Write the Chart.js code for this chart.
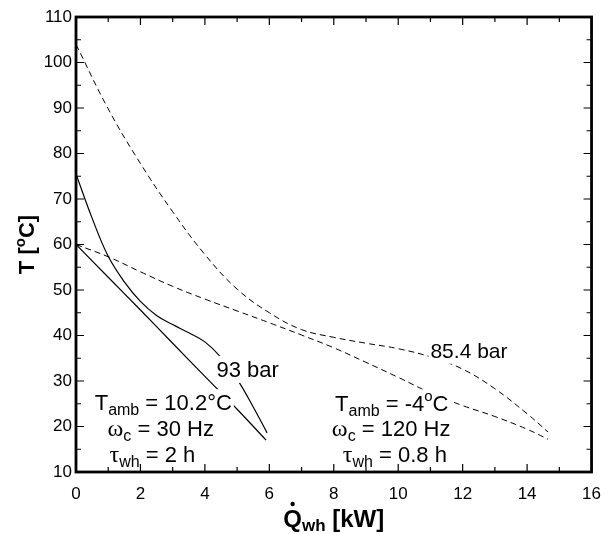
<!DOCTYPE html>
<html lang="en">
<head>
<meta charset="UTF-8" />
<title>Gas cooler temperature profiles</title>
<script src="https://cdn.jsdelivr.net/npm/chart.js@4.4.0/dist/chart.umd.min.js"></script>
<style>
  body { margin: 0; background: #fff; }
</style>
</head>
<body>
<canvas id="chart" width="613" height="534"></canvas>
<script>
  // 93 bar, Tamb = 10.2 C, 30 Hz (solid lines)
  const q93Co2 = [0, 0.5, 1, 1.5, 2, 2.5, 3, 3.5, 4, 4.5, 5, 5.5, 5.93];
  const t93Co2 = [75.5, 65.8, 57.4, 51.8, 47.5, 44.4, 42.4, 40.6, 38.6, 35.2, 30.4, 24.3, 18.6];
  const q93Water = [0, 1, 2, 3, 4, 5, 5.9];
  const t93Water = [60, 52.8, 45.6, 38.3, 31.0, 23.8, 17];

  // 85.4 bar, Tamb = -4 C, 120 Hz (dashed lines)
  const q854 = [0, 1, 2, 3, 4, 5, 6, 7, 8, 9, 10, 11, 12, 13, 14, 14.65];
  const t854Co2 = [104, 89.8, 77.8, 67.2, 57.8, 50.2, 45.0, 41.3, 39.6, 38.3, 37.1, 35.3, 32.6, 28.3, 22.8, 18.8];
  const t854Water = [60, 57.3, 54.0, 50.8, 48.0, 45.4, 42.8, 40.1, 37.3, 34.1, 30.8, 27.4, 24.6, 22.2, 19.4, 17.2];

  const xTicks = [0, 2, 4, 6, 8, 10, 12, 14, 16];
  const yTicks = [10, 20, 30, 40, 50, 60, 70, 80, 90, 100, 110];

  const SANS = '"Liberation Sans", Arial, Helvetica, sans-serif';
  const SERIF = '"Liberation Serif", "Times New Roman", serif';

  function pts(xs, ys) {
    return xs.map((v, i) => ({ x: v, y: ys[i] }));
  }

  function series(data, dashed) {
    return {
      data: data,
      showLine: true,
      borderColor: '#000',
      borderWidth: dashed ? 1 : 1.2,
      borderDash: dashed ? [6, 4] : [],
      pointRadius: 0,
      tension: 0.4,
      fill: false
    };
  }

  // one piece of a label: text, size, baseline shift, family
  function run(text, size, dy, family) {
    return { text, size, dy: dy || 0, family: family || SANS };
  }

  function drawRuns(ctx, runs, x, y, bg, bold) {
    let w = 0;
    runs.forEach(r => {
      ctx.font = (bold ? 'bold ' : '') + r.size + 'px ' + r.family;
      r.w = ctx.measureText(r.text).width;
      w += r.w;
    });
    if (bg) {
      ctx.fillStyle = '#fff';
      ctx.fillRect(x - 2, y - 21, w + 4, 27);
    }
    ctx.fillStyle = '#000';
    ctx.textBaseline = 'alphabetic';
    ctx.textAlign = 'left';
    runs.forEach(r => {
      ctx.font = (bold ? 'bold ' : '') + r.size + 'px ' + r.family;
      ctx.fillText(r.text, x, y + r.dy);
      x += r.w;
    });
    return w;
  }

  // labels placed in data units (left edge, baseline)
  const notes = [
    { q: 4.36, t: 30.9, bg: true, runs: [run('93 bar', 22)] },
    { q: 11.0, t: 35.1, bg: true, runs: [run('85.4 bar', 21)] },
    { q: 0.58, t: 23.6, bg: true, runs: [run('T', 22), run('amb', 16, 5), run(' = 10.2\u00B0C', 22)] },
    { q: 0.98, t: 17.9, runs: [run('\u03C9', 24, 0, SERIF), run('c', 16, 5), run(' = 30 Hz', 22)] },
    { q: 1.04, t: 12.1, runs: [run('\u03C4', 24, 0, SERIF), run('wh', 16, 5), run(' = 2 h', 22)] },
    { q: 8.04, t: 23.5, bg: true, runs: [run('T', 22), run('amb', 16, 5), run(' = -4', 22), run('o', 15, -10), run('C', 22)] },
    { q: 7.94, t: 18.0, runs: [run('\u03C9', 24, 0, SERIF), run('c', 16, 5), run(' = 120 Hz', 22)] },
    { q: 8.28, t: 12.1, runs: [run('\u03C4', 24, 0, SERIF), run('wh', 16, 5), run(' = 0.8 h', 22)] }
  ];

  const annotate = {
    id: 'annotate',
    afterDatasetsDraw(chart) {
      const { ctx, scales: { x, y } } = chart;
      ctx.save();
      notes.forEach(n => {
        drawRuns(ctx, n.runs, x.getPixelForValue(n.q), y.getPixelForValue(n.t), n.bg, false);
      });
      ctx.restore();
    }
  };

  // box frame with inward ticks on all four sides, plus axis titles
  const frame = {
    id: 'frame',
    afterDraw(chart) {
      const { ctx, chartArea: a, scales: { x, y } } = chart;
      ctx.save();
      ctx.strokeStyle = '#000';
      ctx.lineWidth = 1.2;
      ctx.beginPath();
      for (let v = 0; v <= 16; v += 1) {
        const px = x.getPixelForValue(v);
        const len = v % 2 === 0 ? 8 : 5;
        ctx.moveTo(px, a.bottom); ctx.lineTo(px, a.bottom - len);
        ctx.moveTo(px, a.top); ctx.lineTo(px, a.top + len);
      }
      for (let v = 10; v <= 110; v += 5) {
        const py = y.getPixelForValue(v);
        const len = v % 10 === 0 ? 8 : 5;
        ctx.moveTo(a.left, py); ctx.lineTo(a.left + len, py);
        ctx.moveTo(a.right, py); ctx.lineTo(a.right - len, py);
      }
      ctx.stroke();
      ctx.lineWidth = 2.8;
      ctx.strokeRect(a.left, a.top, a.right - a.left, a.bottom - a.top);

      // y title: T [oC]
      ctx.save();
      ctx.translate(26, (a.top + a.bottom) / 2);
      ctx.rotate(-Math.PI / 2);
      const yRuns = [run('T [', 22), run('o', 15, -9), run('C]', 22)];
      let w = 0;
      yRuns.forEach(r => { ctx.font = 'bold ' + r.size + 'px ' + SANS; w += ctx.measureText(r.text).width; });
      drawRuns(ctx, yRuns, -w / 2, 8, false, true);
      ctx.restore();

      // x title: Q-dot_wh [kW]
      const xRuns = [run('Q', 24), run('wh', 17, 4), run(' [kW]', 24)];
      w = 0;
      xRuns.forEach(r => { ctx.font = 'bold ' + r.size + 'px ' + SANS; w += ctx.measureText(r.text).width; });
      const x0 = (a.left + a.right) / 2 - w / 2;
      const base = 527;
      drawRuns(ctx, xRuns, x0, base, false, true);
      ctx.font = 'bold 24px ' + SANS;
      const qw = ctx.measureText('Q').width;
      ctx.beginPath();
      ctx.arc(x0 + qw / 2, base - 23, 2.2, 0, Math.PI * 2);
      ctx.fill();
      ctx.restore();
    }
  };

  const ctx = document.getElementById('chart').getContext('2d');
  new Chart(ctx, {
    type: 'scatter',
    data: {
      datasets: [
        series(pts(q93Co2, t93Co2), false),
        series(pts(q93Water, t93Water), false),
        series(pts(q854, t854Co2), true),
        series(pts(q854, t854Water), true)
      ]
    },
    options: {
      responsive: false,
      animation: false,
      layout: { padding: { top: 17, right: 15, left: 0, bottom: 0 } },
      plugins: { legend: { display: false }, tooltip: { enabled: false } },
      scales: {
        x: {
          type: 'linear',
          min: 0,
          max: 16,
          afterBuildTicks: s => { s.ticks = xTicks.map(v => ({ value: v })); },
          afterFit: s => { s.height = 62; },
          grid: { display: false, drawTicks: false },
          border: { display: false },
          ticks: { color: '#000', padding: 12, font: { family: SANS, size: 17 } }
        },
        y: {
          type: 'linear',
          min: 10,
          max: 110,
          afterBuildTicks: s => { s.ticks = yTicks.map(v => ({ value: v })); },
          afterFit: s => { s.width = 76; },
          grid: { display: false, drawTicks: false },
          border: { display: false },
          ticks: { color: '#000', padding: 4, font: { family: SANS, size: 17 } }
        }
      }
    },
    plugins: [annotate, frame]
  });
</script>
</body>
</html>
